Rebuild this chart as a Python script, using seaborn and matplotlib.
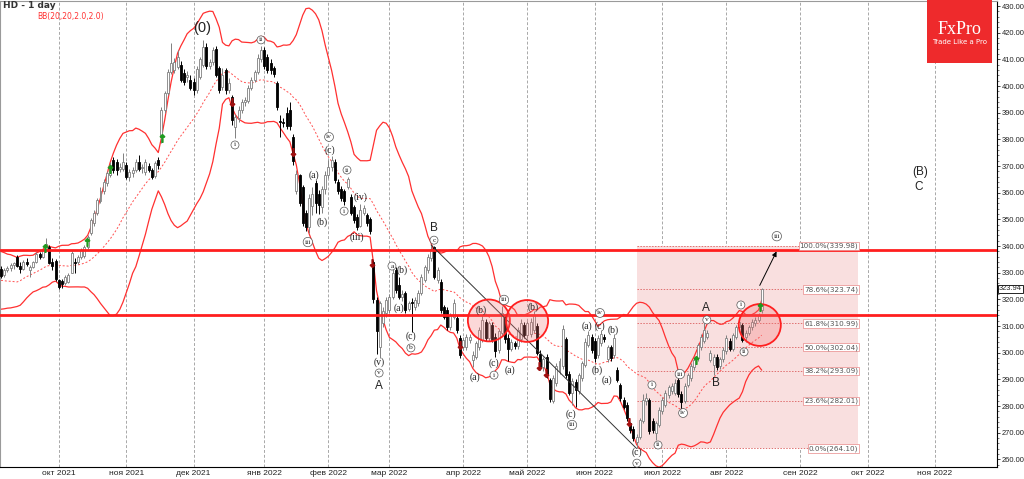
import numpy as np
import pandas as pd
import matplotlib
matplotlib.use("Agg")
import matplotlib.pyplot as plt
import seaborn as sns
from matplotlib.patches import Rectangle, Ellipse
from matplotlib.ticker import MultipleLocator

sns.set_theme(style="white")
plt.rcParams["font.family"] = ["DejaVu Sans"]

# daily candles, 7 Sep 2021 .. 16 Aug 2022
opens = [
    331.5, 329.0, 331.2, 331.8, 332.8, 336.0, 332.6, 331.4, 334.2, 331.0, 332.2, 334.0, 337.2, 336.0, 338.6, 339.6, 334.0, 334.5,
    327.3, 326.8, 326.1, 326.5, 330.0, 334.2, 334.0, 335.9, 336.2, 339.6, 344.9, 348.6, 352.4, 357.0, 360.5, 363.6, 366.6, 372.2, 371.5, 369.0, 369.0,
    370.4, 365.9, 367.4, 368.5, 371.5, 369.2, 367.7, 370.0, 368.5, 366.2, 372.2, 381.0, 391.0, 397.4, 405.3, 406.0, 407.1, 408.0, 405.0, 403.5, 402.3,
    401.5, 398.5, 403.5, 408.0, 414.6, 407.5, 409.0, 414.0, 406.7, 399.5, 406.0, 398.5, 396.0, 384.6, 388.0, 391.0, 394.0, 394.5, 399.3, 402.3, 405.3, 410.0,
    413.5, 411.0, 408.6, 406.7, 401.1, 387.0, 386.5, 390.0, 391.0, 381.0, 360.5, 366.5, 362.1, 352.4, 347.1, 355.0, 363.6, 359.5, 354.5, 361.5,
    366.6, 369.6, 371.5, 364.0, 361.5, 360.5, 362.0, 358.4, 354.8, 350.9, 347.5, 352.4, 351.6, 350.0, 334.0, 319.8, 302.0, 311.1, 315.0,
    316.0, 321.0, 331.0, 325.5, 321.0, 322.4, 316.5, 319.0, 317.1, 318.6, 322.4, 327.3, 331.0, 335.5, 339.5, 327.3, 326.5, 317.1, 316.0, 309.6, 313.4, 313.0, 305.5,
    302.1, 302.1, 304.8, 297.3, 298.4, 302.1, 304.8, 311.5, 305.5, 310.4, 306.0, 301.0, 307.5, 313.5, 305.5, 301.5, 303.5, 302.5, 305.0, 310.4,
    306.5, 307.0, 308.5, 310.0, 299.5, 294.5, 298.5, 289.8, 282.0, 288.5, 293.0, 295.0, 305.0, 292.0, 285.0, 289.0, 285.5, 290.5, 295.5, 303.0, 306.0,
    304.5, 299.0, 303.5, 306.0, 297.5, 302.0, 299.0, 293.5, 288.0, 282.3, 280.5, 273.5, 271.5, 266.5, 268.4, 274.5, 282.0, 282.3, 274.5, 270.0, 273.0,
    278.0, 280.5, 284.0, 285.5, 285.0, 289.8, 284.5, 282.0, 288.0, 290.5, 294.5, 298.0, 302.0, 304.5, 306.0, 297.3, 295.5, 298.4, 295.0, 297.5,
    300.5, 304.5, 301.5, 306.0, 309.6, 310.5, 306.0, 307.5, 309.6, 311.0, 312.3, 316.0,
]
highs = [
    332.5, 331.8, 332.6, 333.5, 334.2, 336.5, 333.9, 334.8, 335.6, 333.0, 334.5, 337.9, 337.8, 339.0, 343.2, 340.4, 335.5, 335.0,
    327.8, 327.6, 329.2, 330.0, 338.2, 335.5, 336.8, 339.4, 340.4, 344.2, 350.6, 353.5, 358.0, 362.0, 365.0, 368.2, 371.5, 373.4, 372.5, 371.1, 374.9,
    371.5, 369.0, 369.6, 372.5, 374.0, 370.8, 372.5, 371.1, 369.2, 372.0, 373.4, 392.0, 398.2, 406.5, 416.1, 410.5, 413.5, 409.5, 406.5, 405.5, 404.0,
    403.0, 407.5, 411.0, 417.3, 416.0, 410.0, 414.6, 415.0, 407.5, 406.7, 406.7, 403.0, 396.6, 389.5, 392.5, 395.0, 396.0, 400.4, 403.4, 406.0, 412.0, 415.0,
    414.5, 412.0, 410.0, 407.5, 402.0, 389.0, 388.0, 392.1, 394.0, 382.0, 368.5, 367.0, 363.0, 353.5, 359.5, 362.0, 364.8, 361.0, 362.5, 368.0,
    372.2, 373.8, 372.5, 365.0, 362.5, 361.5, 366.0, 359.5, 355.5, 352.0, 355.8, 355.5, 352.4, 351.0, 334.8, 321.0, 319.5, 317.0, 321.0,
    322.0, 331.5, 332.0, 328.4, 323.5, 323.0, 319.5, 320.5, 320.8, 323.5, 329.5, 333.0, 337.0, 340.4, 340.0, 332.0, 327.5, 318.0, 317.0, 315.0, 320.0, 314.0, 306.5,
    305.8, 307.0, 307.0, 300.5, 304.5, 309.5, 314.0, 312.5, 312.0, 311.5, 307.5, 309.0, 317.5, 314.5, 307.0, 305.0, 304.5, 309.5, 312.5, 311.5,
    312.0, 313.0, 315.8, 311.0, 301.0, 298.5, 299.5, 290.5, 291.5, 296.0, 298.0, 310.5, 306.0, 293.0, 290.5, 290.0, 292.5, 297.0, 305.5, 308.0, 307.0,
    305.5, 306.5, 308.5, 307.0, 303.0, 303.0, 307.0, 294.5, 288.5, 283.5, 281.5, 274.2, 272.5, 269.5, 275.5, 284.5, 285.0, 283.0, 275.5, 274.5, 279.5,
    283.5, 286.0, 288.0, 288.5, 290.0, 290.8, 285.5, 288.5, 292.5, 296.0, 298.5, 303.5, 307.0, 311.1, 308.5, 301.0, 299.5, 299.5, 298.5, 302.0,
    306.5, 305.5, 307.5, 310.5, 313.0, 311.0, 308.5, 310.5, 312.5, 313.5, 315.0, 324.4,
]
lows = [
    328.0, 328.5, 330.2, 330.6, 331.5, 332.0, 329.8, 331.0, 332.4, 328.3, 331.6, 333.5, 335.2, 335.5, 338.0, 333.2, 331.0, 326.8,
    323.8, 324.3, 325.5, 326.0, 329.9, 329.9, 333.2, 335.1, 335.5, 338.8, 344.1, 347.5, 351.6, 356.3, 359.5, 362.5, 366.0, 367.4, 366.6, 367.7, 368.2,
    365.1, 364.5, 366.0, 367.7, 368.0, 367.4, 366.6, 367.7, 365.0, 365.5, 368.9, 378.6, 390.0, 396.5, 404.5, 405.0, 406.3, 401.5, 400.5, 401.5, 398.5,
    396.5, 397.5, 402.5, 407.0, 406.5, 406.5, 408.0, 403.4, 397.4, 398.5, 397.0, 397.5, 385.5, 380.5, 386.5, 389.9, 392.5, 393.6, 398.5, 401.5, 404.5, 409.0,
    406.5, 405.0, 404.5, 403.4, 391.0, 381.0, 384.5, 384.0, 383.5, 370.5, 359.5, 355.0, 347.5, 345.5, 345.0, 351.5, 352.4, 352.0, 352.5, 359.5,
    365.5, 368.0, 363.5, 359.5, 357.0, 355.5, 361.5, 351.5, 348.6, 346.0, 347.0, 351.5, 347.5, 344.5, 318.5, 299.5, 298.0, 309.5, 313.5,
    315.0, 320.0, 322.5, 320.0, 319.5, 315.0, 315.5, 307.8, 316.0, 317.5, 321.5, 326.5, 330.0, 334.5, 327.5, 326.0, 315.0, 312.5, 308.5, 308.5, 312.5, 307.5, 298.0,
    301.0, 301.0, 303.5, 294.5, 297.5, 301.0, 304.0, 304.5, 304.5, 304.0, 298.5, 300.0, 306.5, 303.5, 297.0, 300.5, 301.5, 301.5, 304.0, 305.5,
    305.5, 306.0, 307.5, 299.0, 293.5, 293.0, 290.5, 281.5, 281.0, 287.5, 292.0, 294.0, 290.5, 284.0, 280.5, 279.5, 284.5, 289.5, 294.5, 302.0, 300.0,
    296.5, 298.0, 302.5, 304.0, 296.5, 297.0, 298.0, 289.0, 282.0, 279.0, 274.5, 270.0, 267.0, 264.1, 267.5, 273.5, 280.5, 269.5, 270.0, 267.2, 272.0,
    277.0, 279.5, 283.0, 284.5, 284.0, 283.5, 278.5, 281.0, 287.0, 289.5, 293.5, 297.0, 301.0, 303.5, 305.0, 296.5, 291.6, 293.5, 294.0, 296.5,
    299.5, 300.5, 300.5, 305.0, 308.5, 304.0, 304.0, 306.5, 308.5, 310.0, 311.5, 315.0,
]
closes = [
    328.8, 331.2, 331.8, 332.8, 333.6, 332.6, 331.4, 334.2, 333.1, 332.2, 333.9, 337.1, 335.9, 338.5, 340.8, 333.6, 332.5, 327.6,
    324.6, 325.8, 328.4, 329.1, 337.4, 333.8, 335.9, 338.5, 339.6, 343.4, 349.8, 352.4, 357.2, 360.8, 364.0, 367.4, 370.4, 368.5, 368.5, 369.6, 371.5,
    365.9, 367.7, 368.5, 371.5, 368.9, 369.6, 371.5, 368.5, 366.0, 371.0, 370.5, 391.0, 397.4, 405.3, 408.6, 409.0, 410.9, 402.3, 401.5, 404.0, 399.3,
    398.5, 406.5, 410.0, 414.6, 407.5, 409.0, 413.5, 404.1, 398.5, 404.0, 398.5, 401.0, 387.2, 388.5, 391.0, 394.0, 394.8, 399.3, 402.3, 405.3, 410.5, 413.5,
    407.5, 406.0, 406.0, 404.5, 392.1, 386.5, 386.0, 385.0, 385.0, 372.0, 367.0, 356.1, 348.6, 347.1, 358.0, 359.5, 356.1, 355.5, 361.5, 366.6,
    369.6, 372.2, 364.8, 360.5, 358.0, 357.0, 365.0, 352.4, 349.8, 347.0, 353.5, 354.2, 348.6, 345.5, 320.0, 308.0, 318.6, 315.5, 319.8,
    320.9, 330.0, 323.5, 320.9, 322.0, 316.0, 318.5, 318.5, 319.8, 322.4, 328.4, 332.1, 335.9, 339.0, 328.4, 331.0, 316.0, 313.4, 309.6, 314.1, 318.6, 308.5, 299.1,
    304.8, 305.9, 305.9, 299.1, 303.6, 308.5, 312.3, 305.5, 311.1, 304.8, 300.5, 308.0, 315.0, 305.0, 301.5, 304.0, 302.5, 308.5, 311.0, 306.5,
    311.0, 311.5, 314.0, 300.0, 294.5, 297.5, 291.6, 282.5, 290.5, 295.0, 297.0, 309.0, 291.5, 285.0, 289.5, 286.0, 291.5, 296.0, 304.0, 306.5, 301.0,
    298.0, 305.5, 307.0, 305.0, 302.0, 298.0, 305.5, 289.8, 283.0, 279.6, 275.5, 271.0, 268.0, 268.4, 274.8, 282.3, 283.0, 270.5, 271.0, 273.5, 278.5,
    282.3, 285.0, 287.0, 287.5, 288.8, 284.5, 281.5, 287.5, 291.5, 295.0, 297.3, 302.9, 305.9, 308.5, 307.4, 299.9, 298.5, 294.6, 297.5, 301.0,
    305.5, 301.5, 306.5, 309.6, 311.5, 304.8, 307.5, 309.6, 311.5, 312.3, 314.1, 323.94,
]
# closes before the first visible bar, only used to seed the bands
warmup_closes = [334.0, 335.0, 334.0, 336.0, 335.0, 322.0, 318.0, 319.0, 321.0, 322.0,
                 324.0, 325.0, 324.0, 326.0, 327.0, 326.0, 326.0, 329.0, 331.0]

month_names = ["янв", "фев", "мар", "апр", "май", "июн", "июл", "авг", "сен", "окт", "ноя", "дек"]
holidays = ["2021-11-25", "2021-12-24", "2022-01-17", "2022-02-21", "2022-04-15",
            "2022-05-30", "2022-06-20", "2022-07-04", "2022-09-05", "2022-11-24"]

support_levels = [314.0, 338.6]
fib_pcts = [0.0, 23.6, 38.2, 50.0, 61.8, 78.6, 100.0]
fib_levels = [264.10, 282.01, 293.09, 302.04, 310.99, 323.74, 339.98]
fib_start, fib_end = 198, 267

circle_idx = [152.0, 163.9, 236.4]
circle_price = [312.1, 311.9, 310.4]

arrow_idx = [236.0, 242.0]
arrow_price = [324.3, 338.9]

up_idx = [13.7, 26.8, 34.0, 50.2, 216.5, 236.5]
up_price = [339.3, 341.5, 368.9, 380.5, 297.3, 317.1]
down_idx = [72.0, 91.0, 115.6, 143.0, 167.6, 169.8, 195.6]
down_price = [394.0, 375.3, 333.6, 302.9, 295.0, 292.4, 274.0]

wave_idx = [62.6, 81.0, 72.9, 102.2, 102.5, 97.5, 100.0, 95.6, 107.8, 106.9, 112.1, 110.9,
            121.8, 124.9, 124.0, 127.7, 127.7, 117.8, 117.8, 117.8, 134.9, 134.9,
            149.5, 156.7, 165.7, 147.7, 153.6, 153.6, 158.6, 177.6, 177.9,
            186.6, 182.6, 186.6, 185.7, 188.8, 190.6, 198.1, 198.1,
            202.8, 204.7, 211.5, 212.5, 219.6, 219.9, 222.7, 230.5, 231.5, 241.7, 286.3, 286.0]
wave_price = [421.8, 417.3, 377.9, 380.9, 376.0, 366.6, 349.0, 341.5, 368.5, 353.1, 358.4, 343.4,
              332.5, 331.0, 316.8, 306.2, 301.8, 296.5, 292.4, 287.5, 346.8, 342.2,
              316.0, 319.8, 317.1, 290.9, 296.1, 291.6, 293.5, 277.0, 272.9,
              314.9, 310.0, 310.0, 293.5, 289.8, 308.5, 262.8, 258.6,
              287.9, 265.4, 292.0, 277.4, 316.8, 312.3, 288.6, 317.9, 300.3, 343.7, 367.8, 362.1]
wave_text = ["(0)", "ii", "i", "iv", "(c)", "(a)", "(b)", "iii", "ii", "i", "(iv)", "(iii)",
             "a", "(b)", "(a)", "(c)", "b", "(v)", "v", "A", "B", "c",
             "(b)", "iii", "(b)", "(a)", "(c)", "i", "(a)", "(c)", "iii",
             "iv", "(a)", "(c)", "(b)", "(a)", "(b)", "(c)", "v",
             "i", "ii", "iii", "iv", "A", "v", "B", "i", "ii", "iii", "(B)", "C"]
wave_kind = ["Z", "c", "c", "c", "p", "p", "p", "c", "c", "c", "p", "p",
             "c", "p", "p", "p", "c", "p", "c", "L", "L", "c",
             "p", "c", "p", "p", "p", "c", "p", "p", "c",
             "c", "p", "p", "p", "p", "p", "p", "c",
             "c", "c", "c", "c", "L", "c", "L", "c", "c", "c", "L", "L"]

# trading calendar -> integer bar positions
cbd = pd.offsets.CustomBusinessDay(holidays=holidays)
dates = pd.date_range("2021-09-07", periods=312, freq=cbd)
idx = np.arange(len(closes))

o = np.array(opens); h = np.array(highs); l = np.array(lows); c = np.array(closes)

# Bollinger bands 20, 2.0
s = pd.Series(warmup_closes + closes)
mid = s.rolling(20).mean().to_numpy()[len(warmup_closes):]
sd = s.rolling(20).std(ddof=0).to_numpy()[len(warmup_closes):]
upper = mid + 2 * sd
lower = mid - 2 * sd

fig = plt.figure(figsize=(10.24, 4.79), dpi=100)
fig.patch.set_facecolor("white")
ax = fig.add_axes([0.0, 1 - 467 / 479, 997 / 1024, 466 / 479])
ax.set_facecolor("white")

# month grid
month_pos, month_lab = [], []
for i in range(1, len(dates)):
    if dates[i].month != dates[i - 1].month:
        month_pos.append(i)
        month_lab.append(f"{month_names[dates[i].month - 1]} {dates[i].year}")
for p in month_pos:
    ax.axvline(p, color="#a8a8a8", lw=0.7, ls=(0, (3, 2)), zorder=0)

# fibonacci box
ax.add_patch(Rectangle((fib_start, fib_levels[0]), fib_end - fib_start,
                       fib_levels[-1] - fib_levels[0], fc="#f9dfdf", ec="none", zorder=0.5))
ax.hlines(fib_levels, fib_start, fib_end, colors="#e07070", lw=0.7, ls=(0, (1.5, 1.5)), zorder=1)

# bands
sns.lineplot(x=idx, y=upper, ax=ax, color="#ff3030", lw=0.9, legend=False, zorder=2)
sns.lineplot(x=idx, y=lower, ax=ax, color="#ff3030", lw=0.9, legend=False, zorder=2)
sns.lineplot(x=idx, y=mid, ax=ax, color="#ff5050", lw=0.7, legend=False, zorder=2)
ax.lines[-1].set_linestyle((0, (2, 2)))

# candles
bull = c >= o
wick_col = np.where(bull, "#808080", "#000000")
ax.vlines(idx, l, h, colors=wick_col, lw=0.7, zorder=3)
body_lo = np.minimum(o, c)
body_h = np.maximum(np.abs(c - o), 0.25)
ax.bar(idx[bull], body_h[bull], bottom=body_lo[bull], width=0.62,
       color="white", edgecolor="#808080", linewidth=0.6, zorder=3.5)
ax.bar(idx[~bull], body_h[~bull], bottom=body_lo[~bull], width=0.62,
       color="black", edgecolor="black", linewidth=0.6, zorder=3.5)

# horizontal levels
for lvl in support_levels:
    ax.axhline(lvl, color="#ff1e1e", lw=2.0, zorder=4)

# circles
for ci, cp in zip(circle_idx, circle_price):
    ax.add_patch(Ellipse((ci, cp), width=13.1, height=15.7, fc=(0.95, 0.45, 0.45, 0.28),
                         ec="#ff2020", lw=1.3, zorder=4.5))

# trend line from B high to the June low
ax.plot([134, 198], [h[134], l[198]], color="#333333", lw=0.7, zorder=4)
ax.annotate("", xy=(arrow_idx[1], arrow_price[1]), xytext=(arrow_idx[0], arrow_price[0]),
            arrowprops=dict(arrowstyle="-|>", color="black", lw=0.7, mutation_scale=7), zorder=5)

ax.scatter(up_idx, up_price, marker=r"$\uparrow$", s=30, color="#1f9a1f", zorder=5)
ax.scatter(down_idx, down_price, marker=r"$\downarrow$", s=30, color="#a01010", zorder=5)

# fib labels
for p, lvl in zip(fib_pcts, fib_levels):
    ax.text(fib_end, lvl, f"{p:.1f}%({lvl:.2f})", ha="right", va="center", fontsize=5.2,
            color="#555555", zorder=6,
            bbox=dict(boxstyle="square,pad=0.12", fc="white", ec="#e88888", lw=0.5))

# wave labels
for xi, yp, t, k in zip(wave_idx, wave_price, wave_text, wave_kind):
    if k == "c":
        ax.text(xi, yp, t, fontsize=5.4, family="Liberation Serif", ha="center", va="center",
                color="#222222", zorder=6,
                bbox=dict(boxstyle="circle,pad=0.2", fc="white", ec="#555555", lw=0.5))
    elif k == "p":
        ax.text(xi, yp, t, fontsize=7, family="Liberation Serif", ha="center", va="center",
                color="#222222", zorder=6)
    elif k == "L":
        ax.text(xi, yp, t, fontsize=8.5, family="Liberation Sans", ha="center", va="center",
                color="#222222", zorder=6)
    else:
        ax.text(xi, yp, t, fontsize=10.5, family="Liberation Sans", ha="center", va="center",
                color="#222222", zorder=6)

# axes
ax.set_xlim(-0.31, 310.3)
ax.set_ylim(257.15, 431.88)
ax.yaxis.tick_right()
ax.set_yticks(np.arange(260, 431, 10))
ax.set_yticklabels([f"{v:.2f}" for v in np.arange(260, 431, 10)], family="Liberation Sans")
ax.yaxis.set_minor_locator(MultipleLocator(2))
ax.tick_params(axis="y", which="major", right=True, left=False, length=2.5, width=0.6,
               labelsize=5.4, pad=1, colors="#222222")
ax.tick_params(axis="y", which="minor", right=True, left=False, length=1.5, width=0.5, color="#444444")
ax.set_xticks(month_pos)
ax.set_xticklabels(month_lab, family="Liberation Sans")
ax.tick_params(axis="x", length=0, labelsize=6, pad=2.2, colors="#222222")
for side in ["right", "bottom"]:
    ax.spines[side].set_color("black")
    ax.spines[side].set_linewidth(0.8)
for side in ["left", "top"]:
    ax.spines[side].set_color("#9a9a9a")
    ax.spines[side].set_linewidth(0.8)

# current price marker
ax.annotate(f"{closes[-1]:.2f}", xy=(1.0, closes[-1]), xycoords=("axes fraction", "data"),
            xytext=(1.5, 0), textcoords="offset points", fontsize=5.4, family="Liberation Sans",
            ha="left", va="center", annotation_clip=False,
            bbox=dict(boxstyle="square,pad=0.1", fc="white", ec="black", lw=0.6))

fig.text(3 / 1024, 1 - 6 / 479, "HD - 1 day", fontsize=6.5, weight="bold", color="#333333",
         ha="left", va="center")
fig.text(37 / 1024, 1 - 16 / 479, "BB(20,20,2.0,2.0)", fontsize=5.5, color="#ff3030",
         ha="left", va="center")

# logo
fig.add_artist(Rectangle((927 / 1024, 1 - 63 / 479), 65 / 1024, 63 / 479,
                         transform=fig.transFigure, fc="#ee2a2c", ec="none", zorder=10))
fig.text(959.5 / 1024, 1 - 29 / 479, "FxPro", fontsize=13, family="Liberation Serif",
         color="white", ha="center", va="center", zorder=11)
fig.text(959.5 / 1024, 1 - 42 / 479, "Trade Like a Pro", fontsize=5, color="white",
         ha="center", va="center", zorder=11)

fig.savefig("out.png", dpi=100)
